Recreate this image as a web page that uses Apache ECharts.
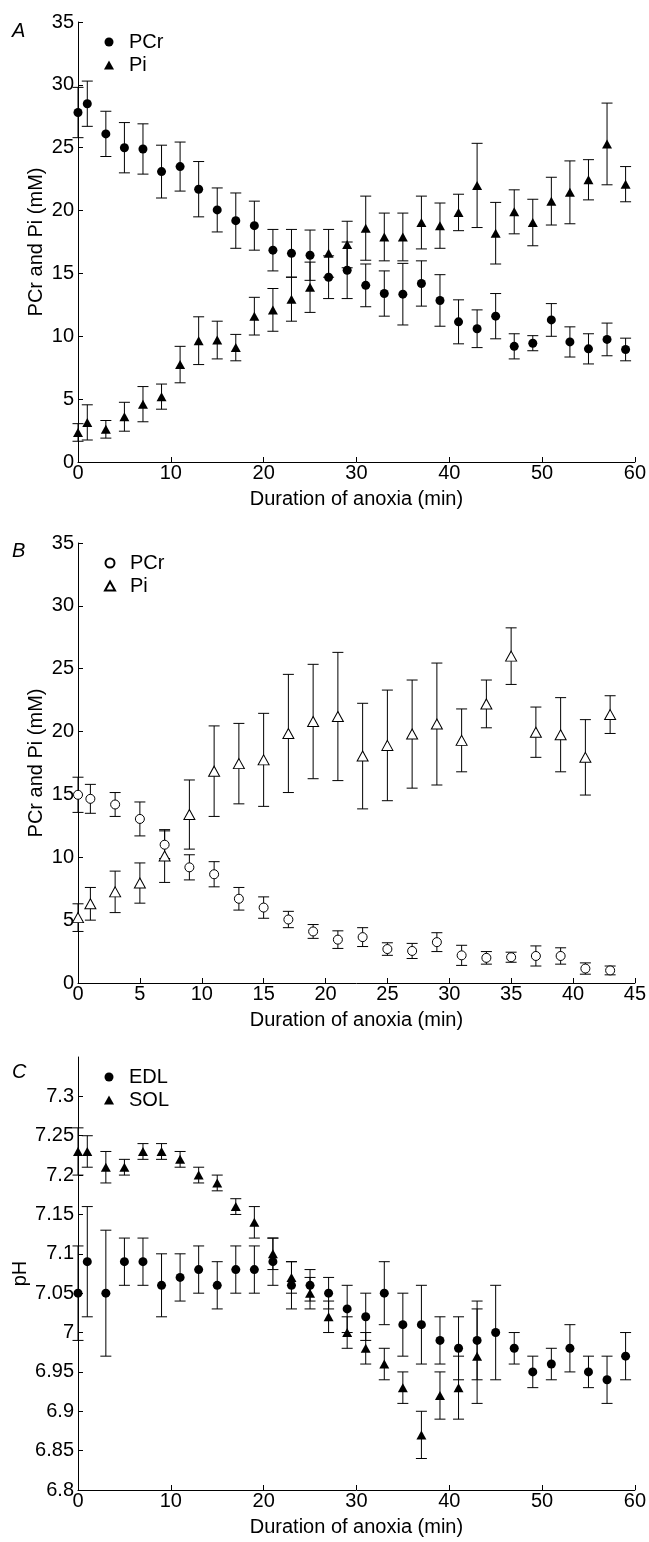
<!DOCTYPE html>
<html>
<head>
<meta charset="utf-8">
<script src="https://cdn.jsdelivr.net/npm/echarts@6/dist/echarts.min.js"></script>
<style>
html, body { margin: 0; padding: 0; background: #fff; }
.panel { position: absolute; left: 0; width: 649px; }
</style>
</head>
<body>
<div id="panelA" class="panel" style="top:0;height:522px"></div>
<div id="panelB" class="panel" style="top:522px;height:520px"></div>
<div id="panelC" class="panel" style="top:1042px;height:500px"></div>
<script>
// panel A: EDL, PCr and Pi (mM), mean and SEM
const minutesA = [0, 1, 3, 5, 7, 9, 11, 13, 15, 17, 19, 21, 23, 25, 27, 29, 31, 33, 35, 37, 39, 41, 43, 45, 47, 49, 51, 53, 55, 57, 59];
const pcrA = [27.8, 28.5, 26.1, 25.0, 24.9, 23.1, 23.5, 21.7, 20.05, 19.2, 18.8, 16.85, 16.6, 16.45, 14.7, 15.25, 14.05, 13.4, 13.35, 14.2, 12.85, 11.15, 10.6, 11.6, 9.2, 9.45, 11.3, 9.55, 9.0, 9.75, 8.95];
const pcrErrA = [2.0, 1.8, 1.8, 2.0, 2.0, 2.1, 1.95, 2.2, 1.75, 2.2, 1.95, 1.65, 1.9, 2.0, 1.7, 2.25, 1.7, 1.8, 2.45, 1.8, 2.05, 1.75, 1.5, 1.8, 1.0, 0.6, 1.3, 1.2, 1.2, 1.3, 0.9];
const piA = [2.35, 3.15, 2.6, 3.6, 4.6, 5.2, 7.75, 9.65, 9.7, 9.1, 11.6, 12.1, 12.95, 13.9, 16.6, 17.3, 18.6, 17.9, 17.9, 19.05, 18.8, 19.85, 22.0, 18.2, 19.9, 19.05, 20.75, 21.45, 22.45, 25.3, 22.1];
const piErrA = [0.7, 1.4, 0.7, 1.15, 1.4, 1.0, 1.45, 1.9, 1.5, 1.05, 1.5, 1.7, 1.75, 2.0, 1.9, 1.85, 2.55, 1.9, 1.9, 2.1, 1.8, 1.45, 3.35, 2.45, 1.75, 1.85, 1.9, 2.5, 1.6, 3.25, 1.4];

// panel B: SOL, PCr and Pi (mM)
const minutesB = [0, 1, 3, 5, 7, 9, 11, 13, 15, 17, 19, 21, 23, 25, 27, 29, 31, 33, 35, 37, 39, 41, 43];
const pcrB = [14.97, 14.65, 14.2, 13.05, 11.0, 9.2, 8.65, 6.7, 6.0, 5.05, 4.1, 3.45, 3.65, 2.7, 2.55, 3.25, 2.2, 2.0, 2.05, 2.15, 2.15, 1.15, 1.0];
const pcrErrB = [1.4, 1.15, 0.95, 1.35, 1.1, 1.0, 1.0, 0.9, 0.85, 0.65, 0.55, 0.7, 0.75, 0.5, 0.6, 0.75, 0.8, 0.5, 0.4, 0.8, 0.65, 0.45, 0.35];
const piB = [5.2, 6.3, 7.25, 7.95, 10.1, 13.4, 16.85, 17.45, 17.75, 19.85, 20.8, 21.2, 18.05, 18.9, 19.8, 20.6, 19.3, 22.2, 26.0, 19.95, 19.75, 17.95, 21.35];
const piErrB = [1.1, 1.3, 1.65, 1.6, 2.1, 2.75, 3.6, 3.2, 3.7, 4.7, 4.55, 5.1, 4.2, 4.4, 4.3, 4.85, 2.5, 1.9, 2.25, 2.0, 2.95, 3.0, 1.5];

// panel C: intracellular pH
const minutesEdl = minutesA;
const edl = [7.05, 7.09, 7.05, 7.09, 7.09, 7.06, 7.07, 7.08, 7.06, 7.08, 7.08, 7.09, 7.06, 7.06, 7.05, 7.03, 7.02, 7.05, 7.01, 7.01, 6.99, 6.98, 6.99, 7.00, 6.98, 6.95, 6.96, 6.98, 6.95, 6.94, 6.97];
const edlErr = [0.06, 0.07, 0.08, 0.03, 0.03, 0.04, 0.03, 0.03, 0.03, 0.03, 0.03, 0.03, 0.03, 0.02, 0.02, 0.03, 0.03, 0.04, 0.04, 0.05, 0.03, 0.04, 0.05, 0.06, 0.02, 0.02, 0.02, 0.03, 0.02, 0.03, 0.03];
const minutesSol = minutesB;
const sol = [7.23, 7.23, 7.21, 7.21, 7.23, 7.23, 7.22, 7.20, 7.19, 7.16, 7.14, 7.10, 7.07, 7.05, 7.02, 7.00, 6.98, 6.96, 6.93, 6.87, 6.92, 6.93, 6.97];
const solErr = [0.03, 0.02, 0.02, 0.01, 0.01, 0.01, 0.01, 0.01, 0.01, 0.01, 0.02, 0.02, 0.02, 0.02, 0.02, 0.02, 0.02, 0.02, 0.02, 0.03, 0.03, 0.04, 0.06];
const pHTicks = [6.8, 6.85, 6.9, 6.95, 7, 7.05, 7.1, 7.15, 7.2, 7.25, 7.3];

const FONT = '"Liberation Sans", Arial, Helvetica, sans-serif';

function rows(xs, ys, es) {
  return xs.map((x, i) => [x, ys[i], es[i]]);
}

// vertical bar with caps, mean +/- err
function errorBar(params, api) {
  const x = api.value(0), y = api.value(1), e = api.value(2);
  const hi = api.coord([x, y + e]);
  const lo = api.coord([x, y - e]);
  const w = 5.5;
  const style = { stroke: '#000', lineWidth: 1 };
  return {
    type: 'group',
    children: [
      { type: 'line', shape: { x1: hi[0], y1: hi[1], x2: lo[0], y2: lo[1] }, style: style },
      { type: 'line', shape: { x1: hi[0] - w, y1: hi[1], x2: hi[0] + w, y2: hi[1] }, style: style },
      { type: 'line', shape: { x1: lo[0] - w, y1: lo[1], x2: lo[0] + w, y2: lo[1] }, style: style }
    ]
  };
}

function axisCommon() {
  return {
    type: 'value',
    axisLine: { show: true, onZero: false, lineStyle: { color: '#000', width: 1 } },
    axisTick: { show: true, inside: true, length: 5, lineStyle: { color: '#000', width: 1 } },
    axisLabel: { color: '#000', fontSize: 20, fontFamily: FONT },
    splitLine: { show: false },
    nameLocation: 'middle',
    nameMoveOverlap: false,
    nameTextStyle: { color: '#000', fontSize: 20, fontFamily: FONT }
  };
}

function makePanel(el, cfg) {
  const chart = echarts.init(el);
  const series = [];
  cfg.sets.forEach(function (s) {
    const data = rows(s.x, s.y, s.err);
    series.push({
      type: 'custom', renderItem: errorBar, data: data,
      encode: { x: 0, y: 1 }, z: 2, silent: true
    });
    series.push({
      type: 'scatter', name: s.name, data: data,
      symbol: s.symbol, symbolSize: s.size, z: 3,
      itemStyle: s.open ? { color: '#fff', borderColor: '#000', borderWidth: 1, opacity: 1 }
                        : { color: '#000', opacity: 1 }
    });
  });

  const x = axisCommon();
  x.min = 0; x.max = cfg.xMax; x.interval = cfg.xStep;
  x.axisLabel.margin = 1;
  x.name = 'Duration of anoxia (min)';
  x.nameGap = 27;

  const y = axisCommon();
  y.min = cfg.yMin; y.max = cfg.yMax; y.interval = cfg.yStep;
  y.axisLabel.margin = 4;
  y.name = cfg.yName;
  y.nameGap = cfg.yNameGap;
  if (cfg.yTicks) {
    y.axisLabel.customValues = cfg.yTicks;
    y.axisTick.customValues = cfg.yTicks;
  }

  chart.setOption({
    animation: false,
    backgroundColor: '#fff',
    title: {
      text: cfg.letter, left: 12, top: cfg.letterTop, padding: 0,
      textStyle: { fontSize: 20, fontStyle: 'italic', fontWeight: 'normal', color: '#000', fontFamily: FONT }
    },
    legend: {
      orient: 'vertical', left: 104, top: cfg.legendTop, padding: 0,
      itemWidth: 10, itemHeight: 9, itemGap: 3, selectedMode: false,
      textStyle: { fontSize: 20, color: '#000', fontFamily: FONT, padding: [0, 0, 0, 10] },
      data: cfg.sets.map(function (s) { return s.name; })
    },
    grid: { left: 78, width: 558, top: cfg.gridTop, height: cfg.gridHeight },
    xAxis: x,
    yAxis: y,
    series: series
  });
  return chart;
}

makePanel(document.getElementById('panelA'), {
  letter: 'A', letterTop: 21, legendTop: 32,
  gridTop: 22, gridHeight: 440,
  xMax: 60, xStep: 10, yMin: 0, yMax: 35, yStep: 5,
  yName: 'PCr and Pi (mM)', yNameGap: 32,
  sets: [
    { name: 'PCr', x: minutesA, y: pcrA, err: pcrErrA, symbol: 'circle', size: 9 },
    { name: 'Pi', x: minutesA, y: piA, err: piErrA, symbol: 'triangle', size: [10, 9] }
  ]
});

makePanel(document.getElementById('panelB'), {
  letter: 'B', letterTop: 19, legendTop: 31,
  gridTop: 21, gridHeight: 440,
  xMax: 45, xStep: 5, yMin: 0, yMax: 35, yStep: 5,
  yName: 'PCr and Pi (mM)', yNameGap: 32,
  sets: [
    { name: 'PCr', x: minutesB, y: pcrB, err: pcrErrB, symbol: 'circle', size: 9, open: true },
    { name: 'Pi', x: minutesB, y: piB, err: piErrB, symbol: 'triangle', size: [11, 10], open: true }
  ]
});

makePanel(document.getElementById('panelC'), {
  letter: 'C', letterTop: 20, legendTop: 25,
  gridTop: 15, gridHeight: 440,
  xMax: 60, xStep: 10, yMin: 6.8, yMax: 7.35, yStep: 0.05, yTicks: pHTicks,
  yName: 'pH', yNameGap: 48,
  sets: [
    { name: 'EDL', x: minutesEdl, y: edl, err: edlErr, symbol: 'circle', size: 9 },
    { name: 'SOL', x: minutesSol, y: sol, err: solErr, symbol: 'triangle', size: [10, 9] }
  ]
});
</script>
</body>
</html>
